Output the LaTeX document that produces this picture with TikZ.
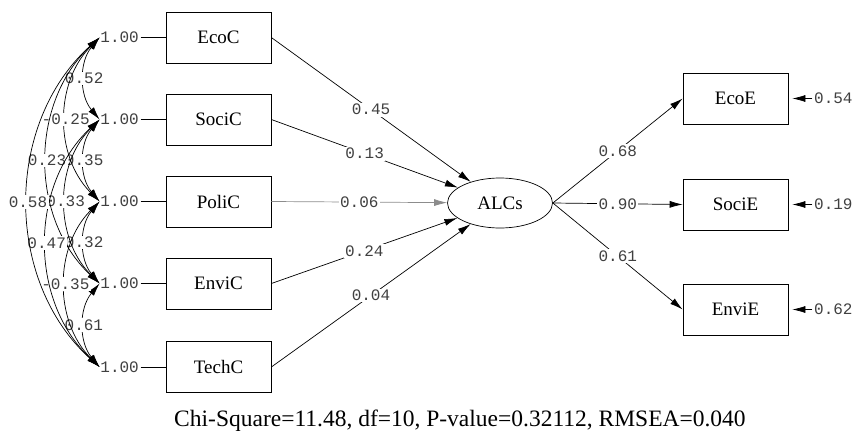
\documentclass[tikz,border=0pt]{standalone}
\usepackage{fontspec}
\setmainfont{Liberation Serif}
\newfontfamily\lismono{Liberation Mono}
\usetikzlibrary{arrows.meta,shapes.geometric}
\begin{document}
\begin{tikzpicture}[x=1pt,y=-1pt,line width=0.7pt,>={Latex[length=13pt,width=7pt]},
    var/.style={draw,minimum width=105pt,minimum height=51pt,font=\fontsize{19}{19}\selectfont},
    num/.style={font=\lismono\fontsize{16}{16}\selectfont,text=black!75,inner sep=1.5pt},
    est/.style={num,fill=white}]
      \useasboundingbox (0,0) rectangle (857,434);
      \node[var](EcoC) at(218.5, 37.5){EcoC};
      \node[var](SociC)at(218.5,119.5){SociC};
      \node[var](PoliC)at(218.5,201.5){PoliC};
      \node[var](EnviC)at(218.5,283.5){EnviC};
      \node[var](TechC)at(218.5,367){TechC};
      \node[draw,ellipse,minimum width=105pt,minimum height=50pt,font=\fontsize{19}{19}\selectfont](ALCs) at(500,203){ALCs};
      \node[var](EcoE) at(735.5, 98.5){EcoE};
      \node[var](SociE)at(735.5,204.5){SociE};
      \node[var](EnviE)at(735.5,309.5){EnviE};
      \foreach \x/\i in {EcoC/1, SociC/2, PoliC/3, EnviC/4, TechC/5}{
        \node[num](V\i) at(\x.west)[xshift=-46pt]{1.00};
        \draw(V\i.east)--(\x.west);
        \coordinate(C\i) at([xshift=1pt]V\i.west);
      }
      % short arcs first, wide arcs on top
      \foreach \a/\b/\t/\w in {1/2/0.52/40, 2/3/0.35/40, 3/4/0.32/40, 4/5/0.61/40, 1/3/-0.25/45,
                               2/4/0.33/45, 3/5/-0.35/45, 1/4/0.23/47, 2/5/0.47/47, 1/5/0.58/48}{
        \draw[<->](C\a)to[bend right=\w]node[est]{\t}(C\b);
      }
      \foreach \x/\t in {EcoC/0.45, SociC/0.13, EnviC/0.24, TechC/0.04}{
        \draw[->](\x.east)--node[est]{\t}(ALCs);
      }
      \draw[->,black!45](PoliC.east)--node[est]{0.06}(ALCs);
      \foreach \x/\t/\e in {EcoE/0.68/0.54, SociE/0.90/0.19, EnviE/0.61/0.62}{
        \draw[->](ALCs.east)--node[est]{\t}(\x.west);
        \node[num](R\x) at(\x.east)[xshift=45pt]{\e};
        \draw[->,shorten >=4pt](R\x.west)--(\x.east);
      }
      \node[font=\fontsize{23.5}{24}\selectfont](Fit) at(460,421){Chi-Square=11.48, df=10, P-value=0.32112, RMSEA=0.040};
    \end{tikzpicture}
\end{document}
